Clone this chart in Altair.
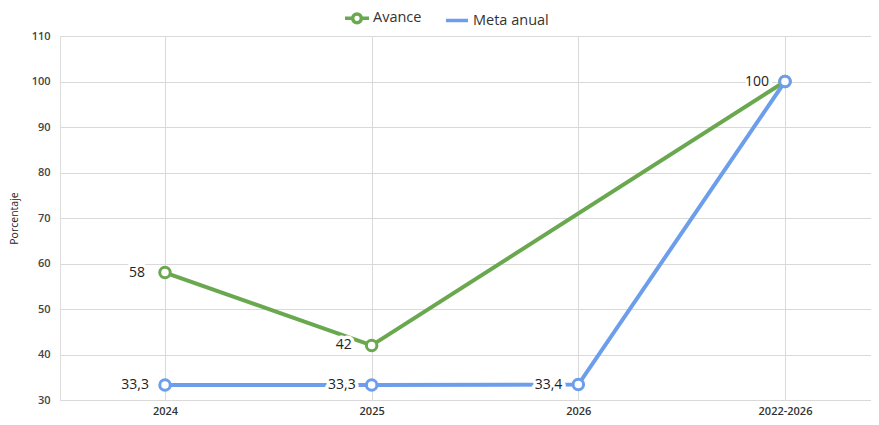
import altair as alt
import pandas as pd

categories = ["2024", "2025", "2026", "2022-2026"]

avance_cat = ["2024", "2025", "2022-2026"]
avance_vals = [58, 42, 100]
avance_labels = ["58", "42", ""]

meta_cat = ["2024", "2025", "2026", "2022-2026"]
meta_vals = [33.3, 33.3, 33.4, 100]
meta_labels = ["33,3", "33,3", "33,4", "100"]

series_names = ["Avance", "Meta anual"]
series_colors = ["#6aa84f", "#6d9eeb"]
y_ticks = [30, 40, 50, 60, 70, 80, 90, 100, 110]

rows = []
for c, v, l in zip(avance_cat, avance_vals, avance_labels):
    rows.append({"cat": c, "val": v, "label": l, "serie": "Avance"})
for c, v, l in zip(meta_cat, meta_vals, meta_labels):
    rows.append({"cat": c, "val": v, "label": l, "serie": "Meta anual"})
df = pd.DataFrame(rows)

FONT = "Open Sans"

# legend symbol paths: line with open circle, plain line
path_avance = "M-1,0L-0.36,0M0.36,0L1,0M0.36,0A0.36,0.36,0,1,0,-0.36,0A0.36,0.36,0,1,0,0.36,0"
path_meta = "M-0.92,0L0.92,0"

x_enc = alt.X(
    "cat:N",
    sort=categories,
    scale=alt.Scale(type="point", domain=categories, padding=0.4621, align=0.5497),
    axis=alt.Axis(
        title=None, labelAngle=0, domain=False, ticks=False, grid=True,
        gridColor="#d9d9d9", labelFont=FONT, labelFontSize=11, labelFontWeight=600,
        labelColor="#333333", labelPadding=5,
    ),
)
y_enc = alt.Y(
    "val:Q",
    scale=alt.Scale(domain=[30, 110], nice=False, zero=False),
    axis=alt.Axis(
        title="Porcentaje", values=y_ticks, domain=False, ticks=False, grid=True,
        gridColor="#d9d9d9", labelFont=FONT, labelFontSize=11, labelFontWeight=600,
        labelColor="#444444", labelPadding=10, titleFont=FONT, titleFontSize=10.5,
        titleFontWeight="normal", titleColor="#222222", titlePadding=12,
    ),
)
color_scale = alt.Scale(domain=series_names, range=series_colors)

base = alt.Chart(df)

def line_for(name):
    return base.transform_filter(alt.datum.serie == name).mark_line(strokeWidth=4).encode(
        x=x_enc, y=y_enc,
        color=alt.Color("serie:N", scale=color_scale, legend=None),
    )

def points_for(name):
    return base.transform_filter(alt.datum.serie == name).mark_point(
        filled=False, fill="white", strokeWidth=3, size=110, opacity=1
    ).encode(
        x=x_enc, y=y_enc,
        color=alt.Color("serie:N", scale=color_scale, legend=None),
    )

def text_for(name, dx, halo):
    if halo:
        mk = dict(stroke="white", strokeWidth=7, strokeJoin="round", fill="white")
    else:
        mk = dict(color="#222222")
    return base.transform_filter(alt.datum.serie == name).mark_text(
        align="right", baseline="middle", dx=dx, fontSize=14, font=FONT, **mk
    ).encode(x=x_enc, y=y_enc, text="label:N")

legend_layer = base.mark_point(filled=False, opacity=0).encode(
    x=x_enc, y=y_enc,
    color=alt.Color(
        "serie:N", scale=color_scale,
        legend=alt.Legend(
            title=None, orient="none", direction="horizontal", legendX=283, legendY=-32,
            labelFont=FONT, labelFontSize=14.5, labelColor="#333333", symbolSize=576,
            symbolStrokeWidth=3.5, labelOffset=2, columnPadding=16, symbolOpacity=1,
            padding=0,
        ),
    ),
    shape=alt.Shape("serie:N", scale=alt.Scale(domain=series_names, range=[path_avance, path_meta])),
)

chart = alt.layer(
    legend_layer,
    line_for("Avance"),
    line_for("Meta anual"),
    text_for("Avance", -20, True),
    text_for("Meta anual", -16, True),
    text_for("Avance", -20, False),
    text_for("Meta anual", -16, False),
    points_for("Avance"),
    points_for("Meta anual"),
).properties(
    width=811, height=364,
    autosize=alt.AutoSizeParams(type="none"),
    padding={"left": 52, "top": 28, "right": 0, "bottom": 17},
).configure_view(stroke=None).configure(background="white")

chart.save("out.html", embed_options={"renderer": "svg", "actions": False})
